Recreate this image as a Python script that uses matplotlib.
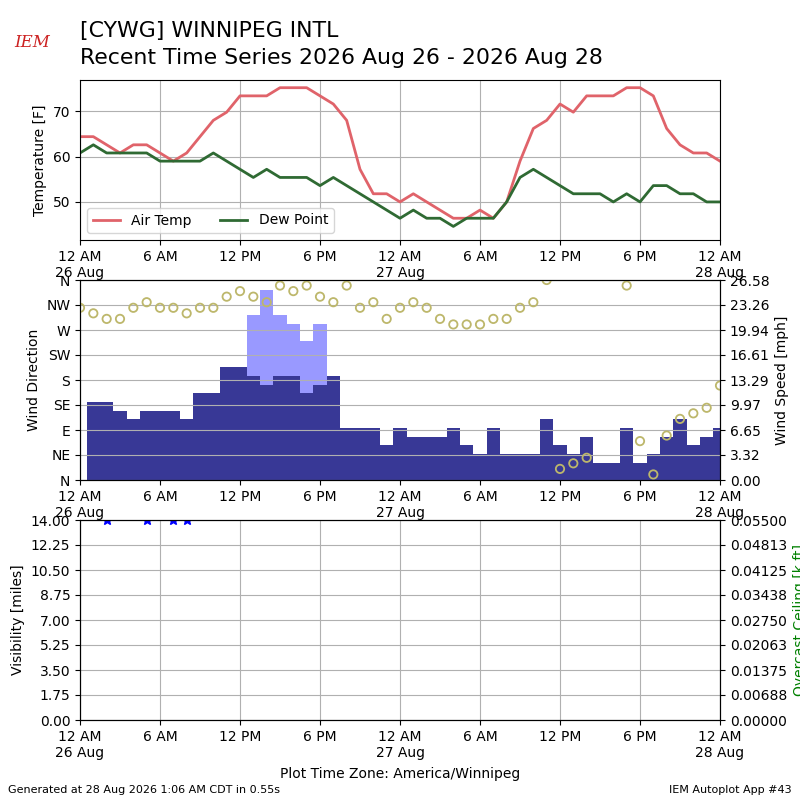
import numpy as np
import pandas as pd
import matplotlib
matplotlib.use("Agg")
import matplotlib.pyplot as plt
import matplotlib.dates as mdates
from matplotlib.ticker import FuncFormatter, FixedLocator

# hourly observations, 26 Aug 00:00 -> 28 Aug 00:00 (local)
times = pd.date_range("2026-08-26 00:00", "2026-08-28 00:00", freq="h")

air_temp = [64.4, 64.4, 62.6, 60.8, 62.6, 62.6, 60.8, 59.0, 60.8, 64.4,
            68.0, 69.8, 73.4, 73.4, 73.4, 75.2, 75.2, 75.2, 73.4, 71.6,
            68.0, 57.2, 51.8, 51.8, 50.0, 51.8, 50.0, 48.2, 46.4, 46.4,
            48.2, 46.4, 50.0, 59.0, 66.2, 68.0, 71.6, 69.8, 73.4, 73.4,
            73.4, 75.2, 75.2, 73.4, 66.2, 62.6, 60.8, 60.8, 59.0]
dew_point = [60.8, 62.6, 60.8, 60.8, 60.8, 60.8, 59.0, 59.0, 59.0, 59.0,
             60.8, 59.0, 57.2, 55.4, 57.2, 55.4, 55.4, 55.4, 53.6, 55.4,
             53.6, 51.8, 50.0, 48.2, 46.4, 48.2, 46.4, 46.4, 44.6, 46.4,
             46.4, 46.4, 50.0, 55.4, 57.2, 55.4, 53.6, 51.8, 51.8, 51.8,
             50.0, 51.8, 50.0, 53.6, 53.6, 51.8, 51.8, 50.0, 50.0]

# wind speed / gust in knots, direction in degrees
wind_kt = [0, 9, 9, 8, 7, 8, 8, 8, 7, 10,
           10, 13, 13, 12, 11, 12, 12, 10, 11, 12,
           6, 6, 6, 4, 6, 5, 5, 5, 6, 4,
           3, 6, 3, 3, 3, 7, 4, 3, 5, 2,
           2, 6, 2, 3, 5, 7, 4, 5, 6]
gust_kt = [None] * 13 + [19, 22, 19, 18, 16, 18] + [None] * 30
wind_dir = [310, 300, 290, 290, 310, 320, 310, 310, 300, 310,
            310, 330, 340, 330, 320, 350, 340, 350, 330, 320,
            350, 310, 320, 290, 310, 320, 310, 290, 280, 280,
            280, 290, 290, 310, 320, 360, 20, 30, 40, None,
            None, 350, 70, 10, 80, 110, 120, 130, 170]

vis_miles = [None, None, 14, None, None, 14, None, 14, 14] + [None] * 40

KT2MPH = 1.15078
speed = np.array(wind_kt, dtype=float) * KT2MPH
gust = np.array(gust_kt, dtype=float) * KT2MPH
wdir = np.array(wind_dir, dtype=float)
vis = np.array(vis_miles, dtype=float)

fig = plt.figure(figsize=(8, 8), dpi=100)

# header
fig.text(0.1, 0.954, "[CYWG] WINNIPEG INTL", fontsize=15.8, va="baseline")
fig.text(0.1, 0.92, "Recent Time Series 2026 Aug 26 - 2026 Aug 28",
         fontsize=15.8, va="baseline")
fig.text(0.04, 0.947, "IEM", color="#cc2222", fontsize=12, family="serif",
         style="italic", ha="center", va="center")
fig.text(0.5, 0.032, "Plot Time Zone: America/Winnipeg", ha="center",
         va="center", fontsize=10)
fig.text(0.01, 0.012, "Generated at 28 Aug 2026 1:06 AM CDT in 0.55s",
         fontsize=8, va="center")
fig.text(0.99, 0.012, "IEM Autoplot App #43", fontsize=8, ha="right",
         va="center")


def time_fmt(x, pos):
    dt = mdates.num2date(x)
    hr = dt.hour % 12 or 12
    label = "%d %s" % (hr, "AM" if dt.hour < 12 else "PM")
    if dt.hour == 0:
        label += "\n%d %s" % (dt.day, dt.strftime("%b"))
    return label


def setup_time(ax):
    ax.set_xlim(times[0], times[-1])
    ax.xaxis.set_major_locator(mdates.HourLocator(byhour=[0, 6, 12, 18]))
    ax.xaxis.set_major_formatter(FuncFormatter(time_fmt))


# temperature panel
ax1 = fig.add_axes([0.1, 0.7, 0.8, 0.2])
ax1.plot(times, air_temp, color="#e0636a", lw=2, label="Air Temp")
ax1.plot(times, dew_point, color="#2f6a33", lw=2, label="Dew Point")
ax1.set_ylim(41.6, 76.9)
ax1.set_yticks([50, 60, 70])
ax1.set_ylabel("Temperature [F]")
ax1.grid(True)
ax1.legend(loc="lower left", ncol=2)
setup_time(ax1)

# wind panel
ax2 = fig.add_axes([0.1, 0.4, 0.8, 0.25])
ax2s = ax2.twinx()
ax2.set_zorder(ax2s.get_zorder() + 1)
ax2.patch.set_visible(False)
ok = np.isfinite(gust)
ax2s.bar(times[ok], gust[ok], width=1 / 24., color="#9999ff")
ax2s.bar(times, speed, width=1 / 24., color="#383896")
smax = np.nanmax(gust) * 1.05
ax2s.set_ylim(0, smax)
ax2s.yaxis.set_major_locator(FixedLocator(np.linspace(0, smax, 9)))
ax2s.yaxis.set_major_formatter(FuncFormatter(lambda v, p: "%.2f" % v))
ax2s.set_ylabel("Wind Speed [mph]")
ax2s.grid(True)
ax2.scatter(times, wdir, s=36, facecolors="none", edgecolors="#bdb76b",
            linewidths=1.3)
ax2.set_ylim(0, 360)
ax2.set_yticks(range(0, 361, 45))
ax2.set_yticklabels(["N", "NE", "E", "SE", "S", "SW", "W", "NW", "N"])
ax2.set_ylabel("Wind Direction")
setup_time(ax2)

# visibility panel
ax3 = fig.add_axes([0.1, 0.1, 0.8, 0.25])
ax3.plot(times, vis, "*", color="b", ms=7)
ax3.set_ylim(0, 14)
ax3.yaxis.set_major_locator(FixedLocator(np.linspace(0, 14, 9)))
ax3.yaxis.set_major_formatter(FuncFormatter(lambda v, p: "%.2f" % v))
ax3.set_ylabel("Visibility [miles]")
ax3.grid(True)
setup_time(ax3)
ax3s = ax3.twinx()
ax3s.set_ylim(0, 0.055)
ax3s.yaxis.set_major_locator(FixedLocator(np.linspace(0, 0.055, 9)))
ax3s.yaxis.set_major_formatter(FuncFormatter(lambda v, p: "%.5f" % v))
ax3s.set_ylabel("Overcast Ceiling [k ft]", color="g")

fig.savefig("out.png", dpi=100)
